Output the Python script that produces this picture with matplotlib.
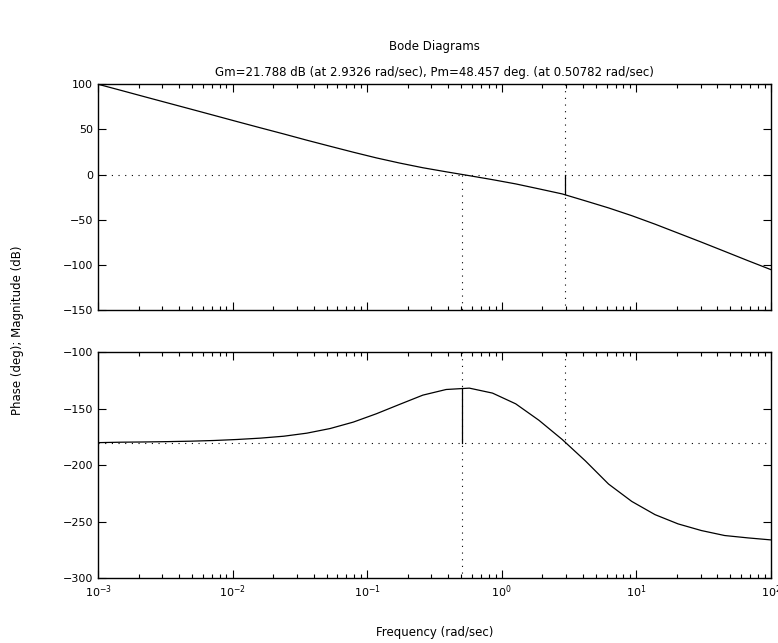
import numpy as np
import matplotlib
matplotlib.use("Agg")
import matplotlib.pyplot as plt
from matplotlib.ticker import LogLocator, NullFormatter

# frequency grid (rad/sec)
freq = [0.001, 0.00149, 0.00221, 0.00329, 0.0049, 0.00728, 0.0108, 0.0161,
        0.0240, 0.0356, 0.0530, 0.0788, 0.117, 0.174, 0.259, 0.386, 0.574,
        0.853, 1.268, 1.888, 2.81, 4.18, 6.21, 9.24, 13.75, 20.4, 30.4,
        45.2, 67.3, 100.0]

mag_db = [100.0, 93.1, 86.2, 79.3, 72.4, 65.5, 58.6, 51.7, 44.9, 38.0,
          31.3, 24.7, 18.4, 12.7, 7.5, 3.0, -1.3, -5.7, -10.4, -15.9,
          -21.5, -29.2, -37.0, -45.6, -55.0, -64.9, -74.9, -85.1, -95.4,
          -105.4]

phase_deg = [-180.0, -179.6, -179.4, -179.1, -178.7, -178.1, -177.2, -176.0,
             -174.3, -171.6, -167.5, -161.8, -154.4, -146.1, -137.9, -132.9,
             -131.7, -136.1, -145.6, -160.2, -177.2, -196.2, -216.7, -232.1,
             -243.8, -252.0, -257.9, -262.3, -264.4, -266.2]

# margins
gm_db = 21.788
wcg = 2.9326
pm_deg = 48.457
wcp = 0.50782

fig = plt.figure(figsize=(7.78, 6.43), dpi=100)
axMag = fig.add_axes([0.126, 0.518, 0.865, 0.351])
axPh = fig.add_axes([0.126, 0.101, 0.865, 0.351])

dots = (0, (1, 5))

# magnitude plot
axMag.semilogx(freq, mag_db, color="black", lw=0.9)
axMag.plot([1e-3, 1e2], [0, 0], color="black", lw=0.8, ls=dots)
axMag.plot([wcg, wcg], [100, -150], color="black", lw=0.8, ls=dots)
axMag.plot([wcp, wcp], [0, -150], color="black", lw=0.8, ls=dots)
axMag.plot([wcg, wcg], [0, -gm_db], color="black", lw=0.9)
axMag.set_ylim(-150, 100)
axMag.set_yticks([-150, -100, -50, 0, 50, 100])

# phase plot
axPh.semilogx(freq, phase_deg, color="black", lw=0.9)
axPh.plot([1e-3, 1e2], [-180, -180], color="black", lw=0.8, ls=dots)
axPh.plot([wcp, wcp], [-100, -300], color="black", lw=0.8, ls=dots)
axPh.plot([wcg, wcg], [-100, -180], color="black", lw=0.8, ls=dots)
axPh.plot([wcp, wcp], [-180, -180 + pm_deg], color="black", lw=0.9)
axPh.set_ylim(-300, -100)
axPh.set_yticks([-300, -250, -200, -150, -100])

for ax in (axMag, axPh):
    ax.set_xlim(1e-3, 1e2)
    ax.xaxis.set_major_locator(LogLocator(base=10, numticks=10))
    ax.xaxis.set_minor_locator(LogLocator(base=10, subs=np.arange(2, 10), numticks=10))
    ax.xaxis.set_minor_formatter(NullFormatter())
    ax.tick_params(which="both", direction="in", top=True, right=True, labelsize=8)
    ax.tick_params(which="major", length=6, width=0.8)
    ax.tick_params(which="minor", length=3, width=0.8)
    for sp in ax.spines.values():
        sp.set_linewidth(1.0)

axMag.tick_params(labelbottom=False)

axMag.set_title("Gm=21.788 dB (at 2.9326 rad/sec), Pm=48.457 deg. (at 0.50782 rad/sec)",
                fontsize=8.5, pad=6)
fig.text(0.5585, 0.928, "Bode Diagrams", ha="center", va="center", fontsize=8.5)
fig.text(0.5585, 0.017, "Frequency (rad/sec)", ha="center", va="center", fontsize=8.5)
fig.text(0.022, 0.487, "Phase (deg); Magnitude (dB)", ha="center", va="center",
         rotation=90, fontsize=8.5)

fig.savefig("out.png", dpi=100)
